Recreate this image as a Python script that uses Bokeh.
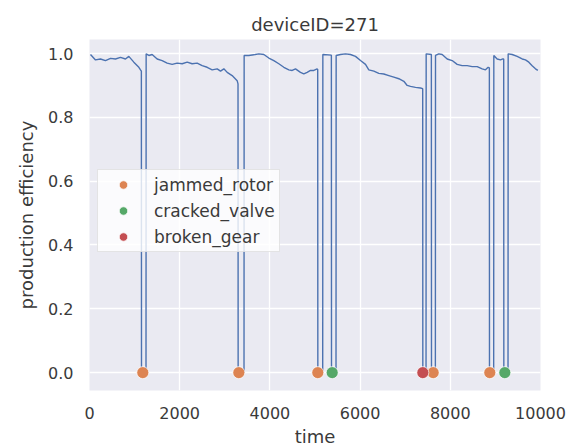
from bokeh.plotting import figure
from bokeh.embed import file_html
from bokeh.resources import INLINE
from bokeh.models import FixedTicker, PrintfTickFormatter, Range1d

# ---- data ----
time = [22, 133, 244, 355, 466, 576, 687, 798, 872, 983, 1094, 1131, 1150, 1153, 1253, 1256,
        1316, 1389, 1500, 1611, 1722, 1833, 1944, 2055, 2166, 2276, 2387, 2498, 2609, 2720, 2831,
        2905, 2979, 3053, 3163, 3274, 3293, 3296, 3426, 3429,
        3533, 3644, 3755, 3866, 3976, 4087, 4198, 4309, 4420, 4494, 4568, 4678, 4752, 4826, 4900,
        4974, 5048, 5060, 5063, 5171, 5174, 5363, 5366, 5466, 5469,
        5565, 5676, 5787, 5898, 6009, 6120, 6193, 6305, 6415, 6526, 6637, 6748, 6859, 6970, 7044,
        7118, 7228, 7339, 7388, 7391, 7462, 7465, 7580, 7583, 7669, 7672,
        7746, 7820, 7931, 8041, 8152, 8263, 8374, 8485, 8596, 8707, 8780, 8839, 8866, 8869, 8962,
        8965, 9039, 9113, 9165, 9184, 9187, 9280, 9283,
        9372, 9483, 9594, 9667, 9741, 9815, 9889, 9941]
efficiency = [0.997, 0.980, 0.983, 0.978, 0.985, 0.983, 0.988, 0.983, 0.991, 0.973, 0.957, 0.949, 0.945, 0.0, 0.0, 0.999,
              0.994, 0.997, 0.983, 0.978, 0.970, 0.966, 0.970, 0.968, 0.973, 0.968, 0.970, 0.962, 0.957, 0.949, 0.952,
              0.945, 0.952, 0.941, 0.931, 0.915, 0.905, 0.0, 0.0, 0.994,
              0.994, 0.996, 0.999, 0.997, 0.986, 0.978, 0.968, 0.957, 0.949, 0.947, 0.952, 0.941, 0.936, 0.941, 0.947,
              0.947, 0.952, 0.950, 0.0, 0.0, 0.997, 0.995, 0.0, 0.0, 0.994,
              0.997, 0.999, 0.997, 0.991, 0.978, 0.966, 0.949, 0.945, 0.938, 0.936, 0.931, 0.926, 0.921, 0.913, 0.900,
              0.897, 0.894, 0.892, 0.890, 0.0, 0.0, 0.999, 0.997, 0.0, 0.0, 0.994,
              0.999, 0.997, 0.983, 0.978, 0.966, 0.962, 0.962, 0.959, 0.959, 0.952, 0.949, 0.957, 0.955, 0.0, 0.0,
              0.994, 0.983, 0.980, 0.983, 0.983, 0.0, 0.0, 0.999,
              0.997, 0.991, 0.983, 0.980, 0.973, 0.962, 0.952, 0.947]

failure_types = ["jammed_rotor", "cracked_valve", "broken_gear"]
failure_times = {
    "jammed_rotor": [1182, 3311, 5062, 7620, 8876],
    "cracked_valve": [5381, 9209],
    "broken_gear": [7391],
}
failure_colors = {"jammed_rotor": "#dd8452", "cracked_valve": "#55a868", "broken_gear": "#c44e52"}

x_ticks = [0, 2000, 4000, 6000, 8000, 10000]
y_ticks = [0.0, 0.2, 0.4, 0.6, 0.8, 1.0]

FONT = "DejaVu Sans"
TXT = "#3a3a3a"

p = figure(frame_width=451, frame_height=351,
           min_border_left=89, min_border_top=39, min_border_right=30, min_border_bottom=50,
           output_backend="svg", toolbar_location=None,
           x_range=Range1d(0, 10000), y_range=Range1d(-0.056, 1.044),
           title="deviceID=271")

p.background_fill_color = "#eaeaf2"
p.border_fill_color = "white"
p.outline_line_color = None

p.title.align = "center"
p.title.text_font = FONT
p.title.text_font_size = "18px"
p.title.text_font_style = "normal"
p.title.text_color = TXT

p.grid.grid_line_color = "white"
p.grid.grid_line_width = 1.3

for ax in (p.xaxis, p.yaxis):
    ax.axis_line_color = None
    ax.major_tick_line_color = None
    ax.minor_tick_line_color = None
    ax.major_label_text_font = FONT
    ax.major_label_text_font_size = "16px"
    ax.major_label_text_color = TXT
    ax.axis_label_text_font = FONT
    ax.axis_label_text_font_size = "18px"
    ax.axis_label_text_font_style = "normal"
    ax.axis_label_text_color = TXT

p.xaxis.ticker = FixedTicker(ticks=x_ticks)
p.yaxis.ticker = FixedTicker(ticks=y_ticks)
p.yaxis.formatter = PrintfTickFormatter(format="%.1f")
p.xaxis.major_label_standoff = 10
p.yaxis.major_label_standoff = 10
p.xaxis.axis_label = "time"
p.yaxis.axis_label = "production efficiency"
p.xaxis.axis_label_standoff = 4
p.yaxis.axis_label_standoff = 8

p.line(time, efficiency, line_color="#4c72b0", line_width=1.4)

for ft in failure_types:
    ts = failure_times[ft]
    p.scatter(ts, [0.0] * len(ts), marker="circle", size=12,
              fill_color=failure_colors[ft], line_color="white", line_width=0.7,
              legend_label=ft)

lg = p.legend[0]
lg.location = (8, 138)
lg.label_text_font = FONT
lg.label_text_font_size = "17px"
lg.label_text_color = TXT
lg.background_fill_color = "white"
lg.background_fill_alpha = 0.8
lg.border_line_color = "#cccccc"
lg.border_line_width = 1
lg.padding = 4
lg.spacing = 5
lg.label_height = 21
lg.glyph_height = 21
lg.glyph_width = 42
lg.label_standoff = 10
lg.margin = 0

open("out.html", "w").write(file_html(p, INLINE))
